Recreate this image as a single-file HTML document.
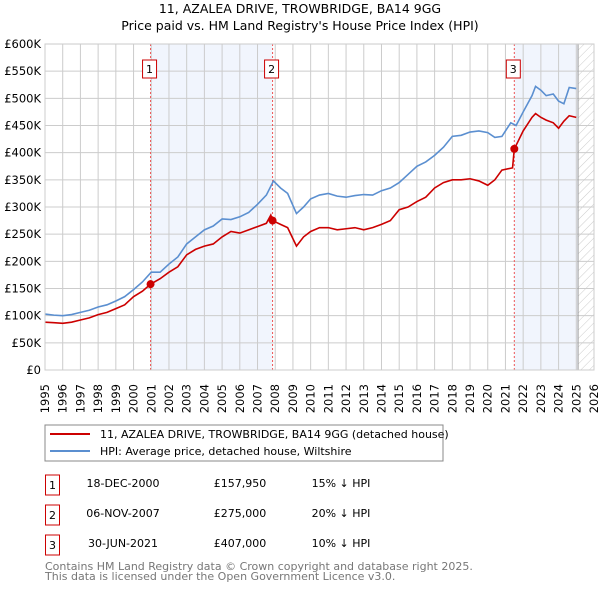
<!DOCTYPE html>
<html><head><meta charset="utf-8"><style>
body{margin:0;background:#fff;width:600px;height:590px;overflow:hidden;font-family:"Liberation Sans","DejaVu Sans",sans-serif}
svg text{font-family:"DejaVu Sans","Liberation Sans",sans-serif}
</style></head><body>
<svg id="c" width="600" height="590" xmlns="http://www.w3.org/2000/svg">
<defs><pattern id="h" width="6" height="6" patternUnits="userSpaceOnUse" patternTransform="rotate(45)"><line x1="0" y1="0" x2="0" y2="6" stroke="#ccc" stroke-width="1"/></pattern></defs>
<text x="300" y="13" text-anchor="middle" font-size="12.5">11, AZALEA DRIVE, TROWBRIDGE, BA14 9GG</text>
<text x="300" y="30" text-anchor="middle" font-size="12.5">Price paid vs. HM Land Registry's House Price Index (HPI)</text>
<g id="plot"></g>
<rect x="45" y="425" width="398" height="36" fill="#fff" stroke="#888"/>
<line x1="50" y1="434" x2="90" y2="434" stroke="#cc0000" stroke-width="2"/>
<text x="100" y="438" font-size="11">11, AZALEA DRIVE, TROWBRIDGE, BA14 9GG (detached house)</text>
<line x1="50" y1="451" x2="90" y2="451" stroke="#5b8fd0" stroke-width="2"/>
<text x="100" y="455" font-size="11">HPI: Average price, detached house, Wiltshire</text>
<g font-size="11">
<rect x="45.5" y="475" width="14" height="20" fill="none" stroke="#cc0000"/><text x="52.5" y="489" text-anchor="middle">1</text>
<text x="123" y="487" text-anchor="middle">18-DEC-2000</text><text x="240" y="487" text-anchor="middle">£157,950</text><text x="341" y="487" text-anchor="middle">15% ↓ HPI</text>
<rect x="45.5" y="505" width="14" height="20" fill="none" stroke="#cc0000"/><text x="52.5" y="519" text-anchor="middle">2</text>
<text x="123" y="517" text-anchor="middle">06-NOV-2007</text><text x="240" y="517" text-anchor="middle">£275,000</text><text x="341" y="517" text-anchor="middle">20% ↓ HPI</text>
<rect x="45.5" y="535" width="14" height="20" fill="none" stroke="#cc0000"/><text x="52.5" y="549" text-anchor="middle">3</text>
<text x="123" y="547" text-anchor="middle">30-JUN-2021</text><text x="240" y="547" text-anchor="middle">£407,000</text><text x="341" y="547" text-anchor="middle">10% ↓ HPI</text>
</g>
<text x="45" y="570" font-size="11" fill="#777">Contains HM Land Registry data © Crown copyright and database right 2025.</text>
<text x="45" y="580" font-size="11" fill="#777">This data is licensed under the Open Government Licence v3.0.</text>
</svg>
<script>
const hpiYears=[1995,1995.5,1996,1996.5,1997,1997.5,1998,1998.5,1999,1999.5,2000,2000.5,2001,2001.5,2002,2002.5,2003,2003.5,2004,2004.5,2005,2005.5,2006,2006.5,2007,2007.5,2007.9,2008.3,2008.7,2009.2,2009.6,2010,2010.5,2011,2011.5,2012,2012.5,2013,2013.5,2014,2014.5,2015,2015.5,2016,2016.5,2017,2017.5,2018,2018.5,2019,2019.5,2020,2020.4,2020.8,2021,2021.3,2021.6,2022,2022.5,2022.7,2023,2023.3,2023.7,2024,2024.3,2024.6,2025];
const hpiValues=[103,101,100,102,106,110,116,120,127,135,148,162,180,180,195,208,232,245,258,265,278,277,282,290,305,322,348,335,325,288,300,315,322,325,320,318,321,323,322,330,335,345,360,375,383,395,410,430,432,438,440,437,428,430,440,455,450,475,505,522,515,505,508,495,490,520,518];
const ppYears=[1995,1995.5,1996,1996.5,1997,1997.5,1998,1998.5,1999,1999.5,2000,2000.5,2000.96,2001.5,2002,2002.5,2003,2003.5,2004,2004.5,2005,2005.5,2006,2006.5,2007,2007.5,2007.75,2007.85,2008.3,2008.7,2009.2,2009.6,2010,2010.5,2011,2011.5,2012,2012.5,2013,2013.5,2014,2014.5,2015,2015.5,2016,2016.5,2017,2017.5,2018,2018.5,2019,2019.5,2020,2020.4,2020.8,2021.4,2021.5,2021.7,2022,2022.5,2022.7,2023,2023.3,2023.7,2024,2024.3,2024.6,2025];
const ppValues=[88,87,86,88,92,96,102,106,113,120,135,145,158,168,180,190,212,222,228,232,245,255,252,258,264,270,285,275,268,262,228,245,255,262,262,258,260,262,258,262,268,275,295,300,310,318,335,345,350,350,352,348,340,350,368,372,407,420,440,465,472,465,460,455,445,458,468,465];
const sales=[[2000.96,157950,"1"],[2007.85,275000,"2"],[2021.5,407000,"3"]];
const yTicks=[0,50,100,150,200,250,300,350,400,450,500,550,600];
const xTicks=[1995,1996,1997,1998,1999,2000,2001,2002,2003,2004,2005,2006,2007,2008,2009,2010,2011,2012,2013,2014,2015,2016,2017,2018,2019,2020,2021,2022,2023,2024,2025,2026];
const X=y=>45+(y-1995)*(549/31), Y=v=>370-v/1000*0.5433;
const NS="http://www.w3.org/2000/svg", g=document.getElementById('plot');
function mk(t,a){const e=document.createElementNS(NS,t);for(const k in a)e.setAttribute(k,a[k]);g.appendChild(e);return e;}
let r;
r=mk('rect',{x:X(sales[0][0]),y:Y(600000),width:X(sales[1][0])-X(sales[0][0]),height:Y(0)-Y(600000),fill:'#eef3fc',opacity:0.8});


r=mk('rect',{x:X(sales[2][0]),y:Y(600000),width:X(2025.1)-X(sales[2][0]),height:Y(0)-Y(600000),fill:'#eef3fc',opacity:0.8});


r=mk('rect',{x:X(2025.1),y:Y(600000),width:X(2026)-X(2025.1),height:Y(0)-Y(600000),fill:'url(#h)'});


yTicks.forEach(v=>{
 const l=mk('line',{x1:45,x2:X(2026),y1:Y(v*1000),y2:Y(v*1000),stroke:'#ccc'});
 
 
 const t=mk('text',{x:41,y:Y(v*1000)+4,'text-anchor':'end','font-size':11.5});
 t.textContent=v?'£'+v+'K':'£0';
 
 
});
xTicks.forEach(yr=>{
 const l=mk('line',{x1:X(yr),x2:X(yr),y1:Y(600000),y2:Y(0),stroke:'#ccc'});
 
 
 const t=mk('text',{x:X(yr),y:384,'text-anchor':'end','font-size':11.5,transform:`rotate(-90 ${X(yr)} 384)`,dy:4});
 t.textContent=yr;
 
 
});
r=mk('line',{x1:X(2025.1),x2:X(2025.1),y1:Y(600000),y2:Y(0),stroke:'#999'});


sales.forEach(s=>{
 const l=mk('line',{x1:X(s[0]),x2:X(s[0]),y1:Y(600000),y2:Y(0),stroke:'#e55','stroke-dasharray':'2,2'});
 
 
 const b=mk('rect',{x:X(s[0])-8,y:60,width:14,height:18,fill:'#fff',stroke:'#cc0000'});
 
 
 const t=mk('text',{x:X(s[0])-1,y:73,'text-anchor':'middle','font-size':11});
 t.textContent=s[2];
 
 
});
let p=mk('polyline',{points:hpiYears.map((y,i)=>X(y)+','+Y(hpiValues[i]*1000)).join(' '),fill:'none',stroke:'#5b8fd0','stroke-width':1.6});


p=mk('polyline',{points:ppYears.map((y,i)=>X(y)+','+Y(ppValues[i]*1000)).join(' '),fill:'none',stroke:'#cc0000','stroke-width':1.6});


sales.forEach(s=>{
 const c=mk('circle',{cx:X(s[0]),cy:Y(s[1]),r:4,fill:'#cc0000'});
 
 
});
r=mk('rect',{x:45,y:Y(600000),width:X(2026)-45,height:Y(0)-Y(600000),fill:'none',stroke:'#ccc'});


</script>
</body></html>
